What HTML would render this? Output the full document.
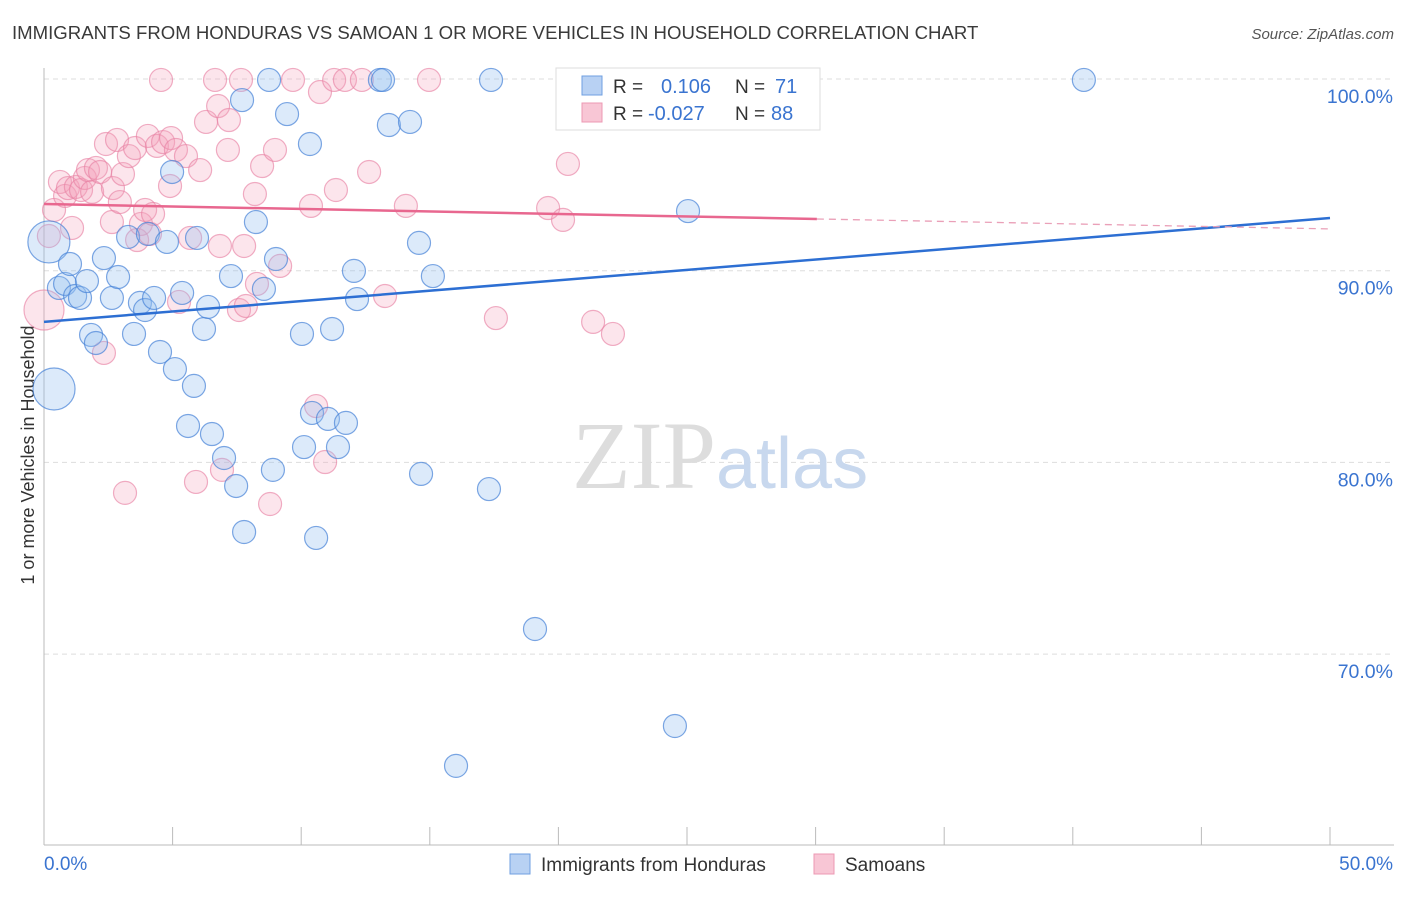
<!DOCTYPE html>
<html><head><meta charset="utf-8"><style>
body{margin:0;background:#fff;font-family:"Liberation Sans",sans-serif;}
</style></head><body>
<svg id="chart" width="1406" height="892" xmlns="http://www.w3.org/2000/svg" font-family="Liberation Sans, sans-serif">
<text x="12" y="39" font-size="18.6" fill="#3a3a3a">IMMIGRANTS FROM HONDURAS VS SAMOAN 1 OR MORE VEHICLES IN HOUSEHOLD CORRELATION CHART</text>
<text x="1394" y="39" font-size="15" fill="#555" font-style="italic" text-anchor="end">Source: ZipAtlas.com</text>
<text transform="translate(34,455) rotate(-90)" font-size="18" fill="#333" text-anchor="middle">1 or more Vehicles in Household</text>
<g id="grid"></g>
<text x="716" y="488" font-size="96" text-anchor="end" fill="#ddd" font-family="Liberation Serif, serif">ZIP</text>
<text x="716" y="488" font-size="72" fill="#c8d8ee">atlas</text>
<g id="pts"></g>
<g id="lines"></g>
<g>
<rect x="556" y="68" width="264" height="62" fill="#fff" stroke="#ddd"/>
<rect x="582" y="76" width="20" height="19" fill="#b8d1f3" stroke="#6f9fe0"/>
<rect x="582" y="103" width="20" height="19" fill="#f8c6d5" stroke="#ec98b3"/>
<text x="613" y="93" font-size="19" fill="#333">R =</text>
<text x="661" y="93" font-size="20" fill="#3a74d0">0.106</text>
<text x="735" y="93" font-size="19" fill="#333">N =</text>
<text x="775" y="93" font-size="20" fill="#3a74d0">71</text>
<text x="613" y="120" font-size="19" fill="#333">R =</text>
<text x="648" y="120" font-size="20" fill="#3a74d0">-0.027</text>
<text x="735" y="120" font-size="19" fill="#333">N =</text>
<text x="771" y="120" font-size="20" fill="#3a74d0">88</text>
</g>
<g>
<rect x="510" y="854" width="20" height="20" fill="#b8d1f3" stroke="#6f9fe0"/>
<text x="541" y="871" font-size="19" fill="#333">Immigrants from Honduras</text>
<rect x="814" y="854" width="20" height="20" fill="#f8c6d5" stroke="#ec98b3"/>
<text x="845" y="871" font-size="19" fill="#333">Samoans</text>
</g>
</svg>
<script>
const xTicks=[0,5,10,15,20,25,30,35,40,45,50];
const yTicks=[100,90,80,70];
const yTickLabels=["100.0%","90.0%","80.0%","70.0%"];
const blueX=[0.19,0.39,0.58,0.82,1.01,1.21,1.40,1.67,1.83,2.02,2.33,2.64,2.88,3.27,3.50,3.73,3.93,4.04,4.28,4.51,4.78,4.98,5.09,5.37,5.60,5.83,5.95,6.22,6.38,6.53,7.00,7.27,7.47,7.70,7.78,8.24,8.55,8.75,8.90,9.02,9.45,10.03,10.11,10.34,10.42,10.58,11.04,11.20,11.43,11.74,12.05,12.17,13.06,13.18,13.41,14.23,14.58,14.66,15.12,17.30,17.38,19.09,16.02,24.53,25.04,23.79,28.23,40.43];
const blueY=[91.50,83.83,89.10,89.31,90.35,88.68,88.58,89.46,86.65,86.23,90.66,88.58,89.67,91.76,86.70,88.32,87.95,91.92,88.58,85.76,91.50,95.15,84.87,88.84,81.90,83.99,91.71,86.96,88.11,81.48,80.23,89.72,78.77,98.90,76.37,92.54,89.05,99.95,79.61,90.61,98.17,86.70,80.80,96.61,82.58,76.06,82.27,86.96,80.80,82.06,89.99,88.52,99.95,99.95,97.60,97.76,91.45,79.40,89.72,78.61,99.95,71.31,64.17,66.25,93.11,99.95,99.95,99.95];
const blueBig=[0,1];
const pinkX=[0,0.19,0.39,0.62,0.82,0.93,1.09,1.24,1.44,1.59,1.71,1.87,2.02,2.18,2.33,2.41,2.64,2.68,2.84,2.95,3.07,3.15,3.30,3.54,3.62,3.77,3.93,4.04,4.12,4.24,4.39,4.55,4.63,4.90,4.94,5.13,5.25,5.52,5.68,5.91,6.07,6.30,6.65,6.77,6.84,6.92,7.15,7.19,7.58,7.66,7.78,7.85,8.20,8.28,8.48,8.79,8.98,9.18,9.68,10.38,10.58,10.73,10.93,11.28,11.35,11.70,12.36,12.64,13.26,14.07,14.97,17.57,19.60,20.18,20.37,21.35,22.12];
const pinkY=[87.95,91.81,93.17,94.63,93.90,94.31,92.23,94.37,94.21,94.84,95.25,94.11,95.36,95.15,85.71,96.61,92.54,94.31,96.82,93.58,95.04,78.41,95.98,96.40,91.60,92.44,93.17,97.03,91.92,92.96,96.51,99.95,96.71,94.42,96.92,96.30,88.37,95.98,91.71,78.98,95.25,97.76,99.95,98.59,91.29,79.61,96.30,97.86,87.95,99.95,91.29,88.16,94.00,89.31,95.46,77.83,96.30,90.25,99.95,93.38,82.94,99.32,80.02,99.95,94.21,99.95,99.95,95.15,88.68,93.38,99.95,87.53,93.27,92.65,95.57,87.33,86.70];
const pinkBig=[0];
const blueTrend=[87.33,92.75];
const pinkTrend=[93.48,92.18];
const pinkSolidEnd=30.05;
const X=v=>44+v/50*1286;
const Y=v=>79+(100-v)*19.17;
const NS="http://www.w3.org/2000/svg";
function mk(tag,attrs,parent){const e=document.createElementNS(NS,tag);for(const k in attrs)e.setAttribute(k,attrs[k]);parent.appendChild(e);return e;}
const grid=document.getElementById('grid');
yTicks.forEach((t,i)=>{
 const l=mk('line',{x1:44,x2:1394,y1:Y(t),y2:Y(t),stroke:'#ddd','stroke-dasharray':'5,4'},grid);
 
 
 const tx=mk('text',{x:1393,y:Y(t)+24,'font-size':19.5,fill:'#3a74d0','text-anchor':'end'},grid);
 tx.textContent=yTickLabels[i];
 
 
});
const ax=mk('line',{x1:44,x2:44,y1:68,y2:845,stroke:'#bbb'},grid);


const bx=mk('line',{x1:44,x2:1394,y1:845,y2:845,stroke:'#bbb'},grid);


xTicks.forEach(t=>{const l=mk('line',{x1:X(t),x2:X(t),y1:827,y2:845,stroke:'#bbb'},grid);
 
 });
const t0=mk('text',{x:44,y:870,'font-size':19,fill:'#3a74d0'},grid);t0.textContent=xTicks[0].toFixed(1)+'%';


const t1=mk('text',{x:1393,y:870,'font-size':19,fill:'#3a74d0','text-anchor':'end'},grid);t1.textContent=xTicks[xTicks.length-1].toFixed(1)+'%';


const pts=document.getElementById('pts');
pinkX.forEach((x,i)=>{const c=mk('circle',{cx:X(x),cy:Y(pinkY[i]),r:pinkBig.includes(i)?20:11.5,fill:'rgba(244,160,188,0.28)',stroke:'rgba(232,130,165,0.65)','stroke-width':1.2},pts);
 
 });
blueX.forEach((x,i)=>{const c=mk('circle',{cx:X(x),cy:Y(blueY[i]),r:blueBig.includes(i)?21:11.5,fill:'rgba(150,190,240,0.33)',stroke:'rgba(70,130,215,0.7)','stroke-width':1.2},pts);
 
 });
const lines=document.getElementById('lines');
const bl=mk('line',{x1:X(0),y1:Y(blueTrend[0]),x2:X(50),y2:Y(blueTrend[1]),stroke:'#2d6fd3','stroke-width':2.5},lines);


const pm=pinkTrend[0]+(pinkTrend[1]-pinkTrend[0])*pinkSolidEnd/50;
const pl=mk('line',{x1:X(0),y1:Y(pinkTrend[0]),x2:X(pinkSolidEnd),y2:Y(pm),stroke:'#e8678f','stroke-width':2.5},lines);


const pd=mk('line',{x1:X(pinkSolidEnd),y1:Y(pm),x2:X(50),y2:Y(pinkTrend[1]),stroke:'#eaa0b8','stroke-width':1.3,'stroke-dasharray':'7,5'},lines);


</script>
</body></html>
